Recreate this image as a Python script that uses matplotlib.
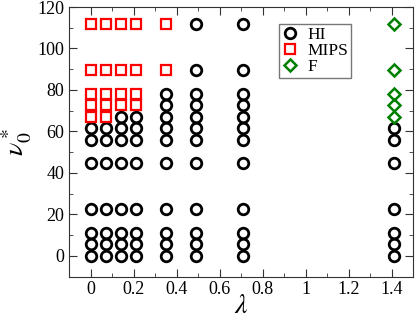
import numpy as np
import matplotlib
matplotlib.use("Agg")
import matplotlib.pyplot as plt
from matplotlib.ticker import MultipleLocator

# columns of lambda
lam = [0, 0.07, 0.14, 0.21, 0.35, 0.49, 0.71, 1.41]
# all v0* levels used (multiples of ~5.59)
v0 = [0, 5.59, 11.18, 22.36, 44.72, 55.9, 61.5, 67.08, 72.67, 78.26, 89.44, 111.8]

# state per column: H = HI, M = MIPS, F = flocking
states = [
    "HHHHHHHMMMMM",
    "HHHHHHHMMMMM",
    "HHHHHHHHMMMM",
    "HHHHHHHHMMMM",
    "HHHHHHHHHHMM",
    "HHHHHHHHHHHH",
    "HHHHHHHHHHHH",
    "HHHHHHHFFFFF",
]

plt.rcParams['font.family'] = ['Liberation Serif', 'DejaVu Serif']
plt.rcParams['mathtext.fontset'] = 'stix'

fig = plt.figure(figsize=(4.15, 3.19), dpi=100)
ax = fig.add_axes([69/415, 1-276.5/319, 344/415, 269.5/319])

pts = {"H": ([], []), "M": ([], []), "F": ([], [])}
for x, s in zip(lam, states):
    for y, c in zip(v0, s):
        pts[c][0].append(x)
        pts[c][1].append(y)

ax.plot(pts["H"][0], pts["H"][1], 'o', ms=7.6, mfc='none', mec='black', mew=2.0, label='HI', ls='none')
ax.plot(pts["M"][0], pts["M"][1], 's', ms=6.5, mfc='none', mec='red', mew=1.6, label='MIPS', ls='none')
ax.plot(pts["F"][0], pts["F"][1], 'D', ms=6.5, mfc='none', mec='green', mew=1.8, label='F', ls='none')

ax.set_xlim(-0.1, 1.5)
ax.set_ylim(-10, 120)
ax.xaxis.set_major_locator(MultipleLocator(0.2))
ax.xaxis.set_minor_locator(MultipleLocator(0.1))
ax.yaxis.set_major_locator(MultipleLocator(20))
ax.yaxis.set_minor_locator(MultipleLocator(10))
ax.set_xticks([0, 0.2, 0.4, 0.6, 0.8, 1.0, 1.2, 1.4])
ax.set_xticklabels(['0', '0.2', '0.4', '0.6', '0.8', '1', '1.2', '1.4'])
ax.tick_params(which='both', direction='in', top=True, right=True, labelsize=13, colors='#333333', labelcolor='black')
ax.tick_params(which='major', length=6)
ax.tick_params(which='minor', length=3)
for sp in ax.spines.values():
    sp.set_color('#333333')

ax.set_xlabel(r'$\lambda$', fontsize=20, labelpad=-3)
ax.set_ylabel(r'$\nu_0^*$', fontsize=20, labelpad=2)

leg = ax.legend(loc='upper left', bbox_to_anchor=(0.61, 0.937), fontsize=12.5, frameon=True,
                fancybox=False, edgecolor='#555555', handlelength=1, handletextpad=0.5,
                borderpad=0.15, labelspacing=0.0, borderaxespad=0)

fig.savefig('out.png', dpi=100)
